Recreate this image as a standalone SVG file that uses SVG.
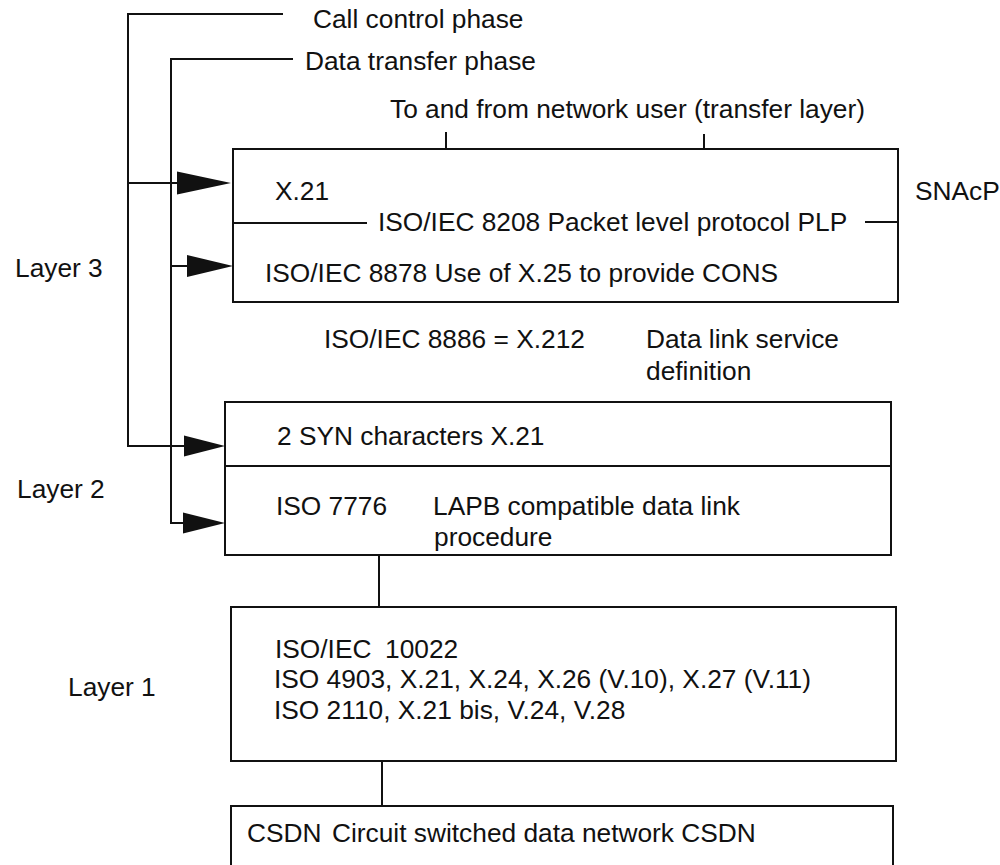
<svg xmlns="http://www.w3.org/2000/svg" width="1000" height="865" viewBox="0 0 1000 865">
  <style>
    text { font-family: "Liberation Sans", Arial, Helvetica, sans-serif; font-size: 26.3px; fill: #111; }
    .box { fill: #fff; stroke: #111; stroke-width: 2; }
    .ln { fill: none; stroke: #111; stroke-width: 2; }
    .head { fill: #111; stroke: none; }
  </style>
  <rect width="1000" height="865" fill="#fff"/>

  <!-- phase brackets and arrows -->
  <g id="connectors">
    <polyline class="ln" points="283,14 128,14 128,446 184,446"/>
    <polyline class="ln" points="293,59 171,59 171,523 183,523"/>
    <line class="ln" x1="128" y1="183" x2="177" y2="183"/>
    <line class="ln" x1="171" y1="266" x2="187" y2="266"/>
    <polygon class="head" points="177,171.5 231,183 177,194.5"/>
    <polygon class="head" points="187,255 233,266 187,277"/>
    <polygon class="head" points="184,435.5 225,446 184,456.5"/>
    <polygon class="head" points="183,512.5 225,523 183,533.5"/>
    <!-- ticks to the network user -->
    <line class="ln" x1="446" y1="132" x2="446" y2="149"/>
    <line class="ln" x1="704" y1="134" x2="704" y2="149"/>
    <!-- links between layers -->
    <line class="ln" x1="379" y1="555" x2="379" y2="607"/>
    <line class="ln" x1="382" y1="761" x2="382" y2="806"/>
  </g>

  <g id="labels">
    <text x="313" y="28">Call control phase</text>
    <text x="305" y="70">Data transfer phase</text>
    <text x="390" y="118">To and from network user (transfer layer)</text>
    <text x="915" y="200">SNAcP</text>
    <text x="15" y="277">Layer 3</text>
    <text x="17" y="498">Layer 2</text>
    <text x="68" y="696">Layer 1</text>
    <text x="324" y="348">ISO/IEC 8886 = X.212</text>
    <text x="646" y="348">Data link service</text>
    <text x="646" y="380">definition</text>
  </g>

  <g id="layer3">
    <rect class="box" x="233" y="149" width="665" height="153"/>
    <line class="ln" x1="233" y1="223" x2="367" y2="223"/>
    <line class="ln" x1="865" y1="222" x2="898" y2="222"/>
    <text x="275" y="200">X.21</text>
    <text x="378" y="231">ISO/IEC 8208 Packet level protocol PLP</text>
    <text x="265" y="282">ISO/IEC 8878 Use of X.25 to provide CONS</text>
  </g>

  <g id="layer2">
    <rect class="box" x="225" y="402" width="666" height="153"/>
    <line class="ln" x1="225" y1="466" x2="891" y2="466"/>
    <text x="277" y="445">2 SYN characters X.21</text>
    <text x="276" y="515">ISO 7776</text>
    <text x="433" y="515">LAPB compatible data link</text>
    <text x="434" y="546">procedure</text>
  </g>

  <g id="layer1">
    <rect class="box" x="231" y="607" width="665" height="154"/>
    <text x="275" y="658">ISO/IEC<tspan x="385">10022</tspan></text>
    <text x="274" y="688">ISO 4903, X.21, X.24, X.26 (V.10), X.27 (V.11)</text>
    <text x="274" y="719">ISO 2110, X.21 bis, V.24, V.28</text>
  </g>

  <g id="csdn">
    <rect class="box" x="231" y="806" width="662" height="80"/>
    <text x="247" y="842">CSDN<tspan x="332">Circuit switched data network CSDN</tspan></text>
  </g>
</svg>
